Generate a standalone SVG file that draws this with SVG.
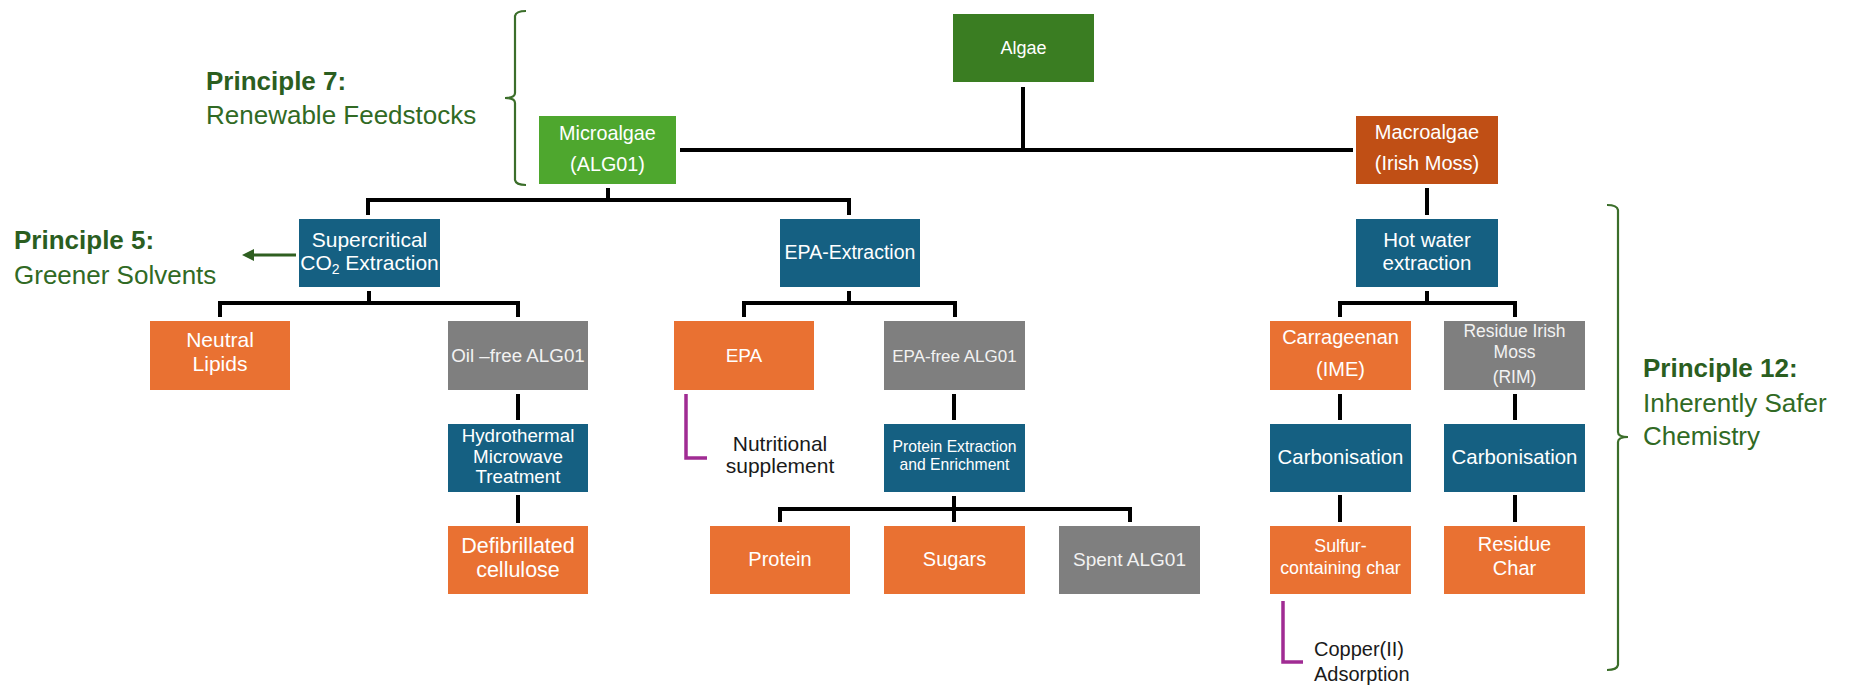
<svg xmlns="http://www.w3.org/2000/svg" width="1852" height="686" viewBox="0 0 1852 686">
<defs>
<style>
.box text{font-family:"Liberation Sans",Arial,sans-serif;fill:#ffffff;text-anchor:middle}
.box.gray text{fill:#f2f2f2}
.dg rect{fill:#3A7D22}
.lg rect{fill:#4EA72E}
.rust rect{fill:#C04F15}
.blue rect{fill:#156082}
.orange rect{fill:#E97132}
.gray rect{fill:#7F7F7F}
.conn{stroke:#000000;stroke-width:4;fill:none}
.mag{stroke:#A02B93;stroke-width:3.5;fill:none}
.brace{stroke:#3B6E2A;stroke-width:2.2;fill:none}
.garrow{stroke:#2F5F20;stroke-width:3;fill:none}
.pb{font-family:"Liberation Sans",Arial,sans-serif;font-weight:bold;font-size:26px;fill:#2B5E1F}
.pr{font-family:"Liberation Sans",Arial,sans-serif;font-size:26px;fill:#316A24}
.note{font-family:"Liberation Sans",Arial,sans-serif;fill:#1a1a1a}
</style>
<marker id="ah" viewBox="0 0 12 12" markerWidth="12" markerHeight="12" refX="2" refY="6" orient="auto" markerUnits="userSpaceOnUse">
<path d="M0,0 L12,6 L0,12 z" fill="#2F5F20"/>
</marker>
</defs>
<rect width="1852" height="686" fill="#ffffff"/>

<g id="connectors">
<path class="conn" d="M1023,87 V150 M680,150 H1353"/>
<path class="conn" d="M608,188 V200 M368,200 H849 M368,198 V215 M849,198 V215"/>
<path class="conn" d="M1427,188 V215"/>
<path class="conn" d="M369,291 V303 M220,303 H518 M220,301 V317 M518,301 V317"/>
<path class="conn" d="M849,291 V303 M744,303 H955 M744,301 V317 M955,301 V317"/>
<path class="conn" d="M1427,291 V303 M1340,303 H1515 M1340,301 V317 M1515,301 V317"/>
<path class="conn" d="M518,394 V420 M518,495 V523"/>
<path class="conn" d="M954,394 V420 M954,496 V522 M780,509 H1130 M780,507 V522 M1130,507 V522"/>
<path class="conn" d="M1340,394 V420 M1340,495 V522 M1515,394 V420 M1515,495 V522"/>
<path class="mag" d="M686,394 V458 H707"/>
<path class="mag" d="M1283,601 V662 H1303"/>
<line class="garrow" x1="296" y1="255" x2="252" y2="255" marker-end="url(#ah)"/>
</g>

<g id="principle-7">
<text class="pb" x="206" y="90">Principle 7:</text>
<text class="pr" x="206" y="124">Renewable Feedstocks</text>
<path class="brace" d="M526,11 Q516,11 515,16 L515,93 Q515,98 505,98 Q515,98 515,103 L515,180 Q516,185 526,185"/>
</g>

<g id="principle-5">
<text class="pb" x="14" y="249">Principle 5:</text>
<text class="pr" x="14" y="284">Greener Solvents</text>
</g>

<g id="principle-12">
<text class="pb" x="1643" y="377">Principle 12:</text>
<text class="pr" x="1643" y="412">Inherently Safer</text>
<text class="pr" x="1643" y="445">Chemistry</text>
<path class="brace" d="M1607,205 Q1617,205 1618,210 L1618,432 Q1618,437 1628,437 Q1618,437 1618,442 L1618,665 Q1617,670 1607,670"/>
</g>

<g id="algae" class="box dg"><rect x="953" y="14" width="141" height="68"/><text x="1023.5" y="54" font-size="18">Algae</text></g>
<g id="microalgae" class="box lg"><rect x="539" y="116" width="137" height="68"/><text x="607.5" y="140" font-size="19.8">Microalgae</text><text x="607.5" y="171" font-size="19.8">(ALG01)</text></g>
<g id="macroalgae" class="box rust"><rect x="1356" y="116" width="142" height="68"/><text x="1427" y="139" font-size="20">Macroalgae</text><text x="1427" y="170" font-size="20">(Irish Moss)</text></g>

<g id="supercritical" class="box blue"><rect x="299" y="219" width="141" height="68"/><text x="369.5" y="247" font-size="21">Supercritical</text><text x="369.5" y="270" font-size="21">CO<tspan font-size="14" dy="4">2</tspan><tspan dy="-4"> Extraction</tspan></text></g>
<g id="epa-extraction" class="box blue"><rect x="780" y="219" width="140" height="68"/><text x="850" y="259" font-size="19.5">EPA-Extraction</text></g>
<g id="hot-water-extraction" class="box blue"><rect x="1356" y="219" width="142" height="68"/><text x="1427" y="247" font-size="20.5">Hot water</text><text x="1427" y="270" font-size="20.5">extraction</text></g>

<g id="neutral-lipids" class="box orange"><rect x="150" y="321" width="140" height="69"/><text x="220" y="347" font-size="21">Neutral</text><text x="220" y="371" font-size="21">Lipids</text></g>
<g id="oil-free-alg01" class="box gray"><rect x="448" y="321" width="140" height="69"/><text x="518" y="362" font-size="18.8">Oil –free ALG01</text></g>
<g id="epa" class="box orange"><rect x="674" y="321" width="140" height="69"/><text x="744" y="362" font-size="19">EPA</text></g>
<g id="epa-free-alg01" class="box gray"><rect x="884" y="321" width="141" height="69"/><text x="954.5" y="362" font-size="17">EPA-free ALG01</text></g>
<g id="carrageenan" class="box orange"><rect x="1270" y="321" width="141" height="69"/><text x="1340.5" y="344" font-size="20">Carrageenan</text><text x="1340.5" y="376" font-size="20">(IME)</text></g>
<g id="residue-irish-moss" class="box gray"><rect x="1444" y="321" width="141" height="69"/><text x="1514.5" y="337" font-size="17.5">Residue Irish</text><text x="1514.5" y="358" font-size="17.5">Moss</text><text x="1514.5" y="383" font-size="17.5">(RIM)</text></g>

<g id="hydrothermal" class="box blue"><rect x="448" y="424" width="140" height="68"/><text x="518" y="442" font-size="18.8">Hydrothermal</text><text x="518" y="463" font-size="18.8">Microwave</text><text x="518" y="483" font-size="18.8">Treatment</text></g>
<g id="nutritional-supplement"><text class="note" x="780" y="451" font-size="21" text-anchor="middle">Nutritional</text><text class="note" x="780" y="473" font-size="21" text-anchor="middle">supplement</text></g>
<g id="protein-extraction" class="box blue"><rect x="884" y="424" width="141" height="68"/><text x="954.5" y="452" font-size="15.7">Protein Extraction</text><text x="954.5" y="470" font-size="15.7">and Enrichment</text></g>
<g id="carbonisation-1" class="box blue"><rect x="1270" y="424" width="141" height="68"/><text x="1340.5" y="464" font-size="20.4">Carbonisation</text></g>
<g id="carbonisation-2" class="box blue"><rect x="1444" y="424" width="141" height="68"/><text x="1514.5" y="464" font-size="20.4">Carbonisation</text></g>

<g id="defibrillated-cellulose" class="box orange"><rect x="448" y="526" width="140" height="68"/><text x="518" y="553" font-size="21.5">Defibrillated</text><text x="518" y="577" font-size="21.5">cellulose</text></g>
<g id="protein" class="box orange"><rect x="710" y="526" width="140" height="68"/><text x="780" y="566" font-size="20">Protein</text></g>
<g id="sugars" class="box orange"><rect x="884" y="526" width="141" height="68"/><text x="954.5" y="566" font-size="20">Sugars</text></g>
<g id="spent-alg01" class="box gray"><rect x="1059" y="526" width="141" height="68"/><text x="1129.5" y="566" font-size="19">Spent ALG01</text></g>
<g id="sulfur-containing-char" class="box orange"><rect x="1270" y="526" width="141" height="68"/><text x="1340.5" y="552" font-size="17.8">Sulfur-</text><text x="1340.5" y="574" font-size="17.8">containing char</text></g>
<g id="residue-char" class="box orange"><rect x="1444" y="526" width="141" height="68"/><text x="1514.5" y="551" font-size="20">Residue</text><text x="1514.5" y="575" font-size="20">Char</text></g>

<g id="copper-adsorption"><text class="note" x="1314" y="656" font-size="20">Copper(II)</text><text class="note" x="1314" y="681" font-size="20">Adsorption</text></g>
</svg>
